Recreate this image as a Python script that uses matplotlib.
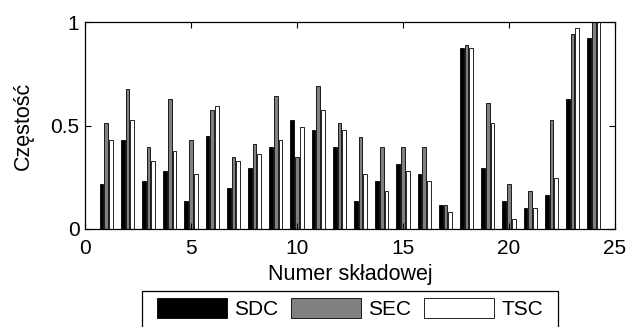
import numpy as np
import matplotlib
matplotlib.use("Agg")
import matplotlib.pyplot as plt
from matplotlib.patches import Rectangle

plt.rcParams['font.family'] = ['Liberation Sans', 'DejaVu Sans']

components = np.arange(1, 25)
sdc = [0.217, 0.428, 0.232, 0.280, 0.133, 0.447, 0.199, 0.297, 0.395, 0.527,
       0.477, 0.395, 0.133, 0.232, 0.315, 0.265, 0.117, 0.873, 0.297, 0.133,
       0.100, 0.166, 0.627, 0.923]
sec = [0.511, 0.675, 0.395, 0.627, 0.428, 0.577, 0.347, 0.412, 0.641, 0.346,
       0.691, 0.511, 0.445, 0.395, 0.395, 0.395, 0.117, 0.891, 0.611, 0.215,
       0.182, 0.527, 0.941, 1.0]
tsc = [0.428, 0.527, 0.328, 0.379, 0.265, 0.593, 0.328, 0.363, 0.428, 0.494,
       0.577, 0.477, 0.265, 0.182, 0.280, 0.232, 0.084, 0.873, 0.511, 0.050,
       0.100, 0.248, 0.971, 1.0]
labels = ['SDC', 'SEC', 'TSC']
colors = ['black', '#808080', 'white']

W, H = 628, 327
fig = plt.figure(figsize=(W/100, H/100), dpi=100)
ax = fig.add_axes([85/W, 1 - 229/H, 530/W, 207/H])

gw = 2/3
step = gw/3
bw = step*0.8
handles = []
for i, (vals, c, lab) in enumerate(zip([sdc, sec, tsc], colors, labels)):
    b = ax.bar(components + (i-1)*step, vals, width=bw, color=c, edgecolor='black',
               linewidth=0.6, label=lab)
    handles.append(b)

ax.set_xlim(0, 25)
ax.set_ylim(0, 1)
ax.set_xticks([0, 5, 10, 15, 20, 25])
ax.set_yticks([0, 0.5, 1])
ax.set_yticklabels(['0', '0.5', '1'])
ax.tick_params(direction='in', length=4, width=0.8, labelsize=15,
               top=True, right=True)
ax.tick_params(axis='x', pad=7.5)
ax.tick_params(axis='y', pad=4)
for s in ax.spines.values():
    s.set_linewidth(0.9)
ax.set_xlabel('Numer składowej', fontsize=15.5, labelpad=4)
ax.set_ylabel('Częstość', fontsize=15.5, labelpad=12)

# legend frame (extends beyond bottom of the figure, as in the reference)
rect = Rectangle((142/W, -0.05), (558-142)/W, 0.05 + (1 - 291/H),
                 transform=fig.transFigure, facecolor='white',
                 edgecolor='black', linewidth=0.9, zorder=1)
fig.patches.append(rect)
leg = fig.legend(handles, labels, loc='upper left',
                 bbox_to_anchor=(157/W, 1 - 297.5/H),
                 bbox_transform=fig.transFigure, ncol=3, fontsize=15,
                 frameon=False, handlelength=3.36, handleheight=1.15,
                 handletextpad=0.34, columnspacing=0.62,
                 borderpad=0, borderaxespad=0)
leg.set_zorder(10)

fig.savefig('out.png', dpi=100)
